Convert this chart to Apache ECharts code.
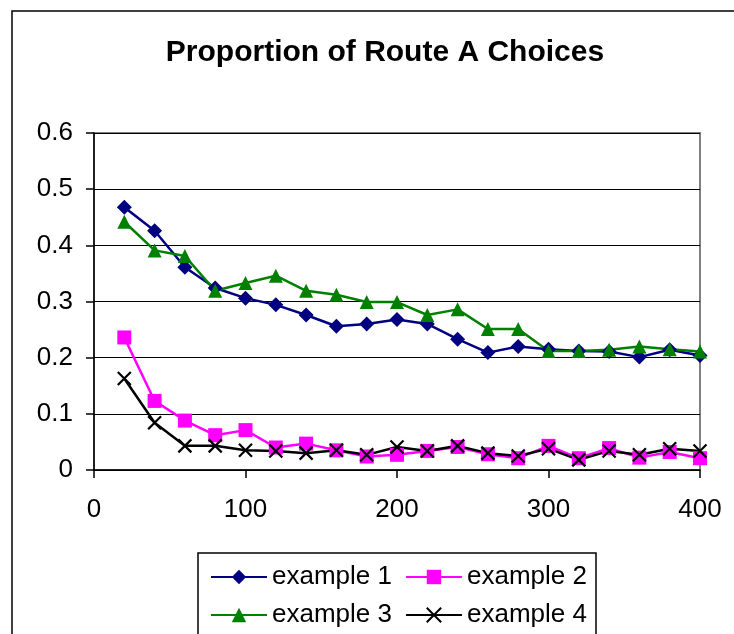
<!DOCTYPE html>
<html>
<head>
<meta charset="utf-8">
<script src="https://cdn.jsdelivr.net/npm/echarts@6/dist/echarts.min.js"></script>
<style>
  html, body { margin: 0; padding: 0; background: #fff; }
  #chart { width: 734px; height: 634px; }
</style>
</head>
<body>
<div id="chart"></div>
<script>
// Sample points (time step) shared by every series
const steps = [20, 40, 60, 80, 100, 120, 140, 160, 180, 200, 220, 240, 260, 280, 300, 320, 340, 360, 380, 400];

// Proportion of Route A choices per example
const example1 = [0.468, 0.426, 0.361, 0.324, 0.306, 0.294, 0.276, 0.256, 0.260, 0.268, 0.260, 0.233, 0.209, 0.220, 0.215, 0.212, 0.211, 0.201, 0.214, 0.204];
const example2 = [0.236, 0.123, 0.088, 0.062, 0.071, 0.040, 0.047, 0.035, 0.024, 0.027, 0.034, 0.041, 0.028, 0.021, 0.043, 0.021, 0.039, 0.022, 0.032, 0.021];
const example3 = [0.442, 0.391, 0.381, 0.319, 0.333, 0.346, 0.319, 0.312, 0.299, 0.299, 0.276, 0.286, 0.251, 0.251, 0.212, 0.212, 0.214, 0.220, 0.215, 0.211];
const example4 = [0.163, 0.084, 0.043, 0.043, 0.035, 0.034, 0.030, 0.035, 0.027, 0.041, 0.034, 0.043, 0.030, 0.025, 0.038, 0.018, 0.034, 0.027, 0.038, 0.034];

const seriesNames = ['example 1', 'example 2', 'example 3', 'example 4'];
const seriesData = [example1, example2, example3, example4];

const FONT = '"Liberation Sans", Arial, sans-serif';
const crossPath = 'path://M0,0L10,10M10,0L0,10';

const styles = [
  { color: '#000080', symbol: 'diamond', size: 15 },
  { color: '#FF00FF', symbol: 'rect', size: 14 },
  { color: '#008000', symbol: 'triangle', size: 14 },
  { color: '#000000', symbol: crossPath, size: 13 }
];

function pairs(values) {
  return values.map((v, i) => [steps[i], v]);
}

const chart = echarts.init(document.getElementById('chart'), null, { renderer: 'canvas' });

const legendCommon = {
  orient: 'horizontal',
  left: 205,
  itemWidth: 56,
  itemHeight: 18,
  itemGap: 13,
  textStyle: { fontFamily: FONT, fontSize: 26, color: '#000' },
  selectedMode: false
};

chart.setOption({
  backgroundColor: '#fff',
  animation: false,
  title: {
    text: 'Proportion of Route A Choices',
    left: 380,
    top: 33,
    textAlign: 'center',
    textStyle: { fontFamily: FONT, fontSize: 30, fontWeight: 'bold', color: '#000' }
  },
  graphic: [
    {
      type: 'rect',
      shape: { x: 12, y: 11, width: 900, height: 900 },
      style: { fill: 'none', stroke: '#000', lineWidth: 1.5 },
      silent: true,
      z: -1
    },
    {
      type: 'rect',
      shape: { x: 198, y: 553, width: 398, height: 200 },
      style: { fill: '#fff', stroke: '#000', lineWidth: 1.5 },
      silent: true,
      z: -1
    }
  ],
  legend: [
    Object.assign({}, legendCommon, { top: 559, data: ['example 1', 'example 2'] }),
    Object.assign({}, legendCommon, { top: 597, data: ['example 3', 'example 4'] })
  ],
  grid: {
    left: 94,
    right: 34,
    top: 133,
    bottom: 164,
    show: true,
    backgroundColor: '#fff',
    borderColor: '#808080',
    borderWidth: 2
  },
  xAxis: {
    type: 'value',
    min: 0,
    max: 400,
    interval: 100,
    axisLine: { lineStyle: { color: '#000', width: 1.5 } },
    axisTick: { show: true, inside: false, length: 8, lineStyle: { color: '#000', width: 1.5 } },
    axisLabel: { fontFamily: FONT, fontSize: 26, color: '#000', margin: 27 },
    splitLine: { show: false }
  },
  yAxis: {
    type: 'value',
    min: 0,
    max: 0.6,
    interval: 0.1,
    axisLine: { show: true, lineStyle: { color: '#000', width: 1.5 } },
    axisTick: { show: true, inside: false, length: 8, lineStyle: { color: '#000', width: 1.5 } },
    axisLabel: { fontFamily: FONT, fontSize: 26, color: '#000', margin: 21 },
    splitLine: { show: true, lineStyle: { color: '#000', width: 1 } }
  },
  series: seriesNames.map((name, i) => ({
    name: name,
    type: 'line',
    data: pairs(seriesData[i]),
    symbol: styles[i].symbol,
    symbolSize: styles[i].size,
    showAllSymbol: true,
    lineStyle: { color: styles[i].color, width: 2.5 },
    itemStyle: i === 3
      ? { color: '#000', borderColor: '#000', borderWidth: 2.2 }
      : { color: styles[i].color, borderColor: styles[i].color, borderWidth: 0 },
    emphasis: { disabled: true }
  }))
});
</script>
</body>
</html>
